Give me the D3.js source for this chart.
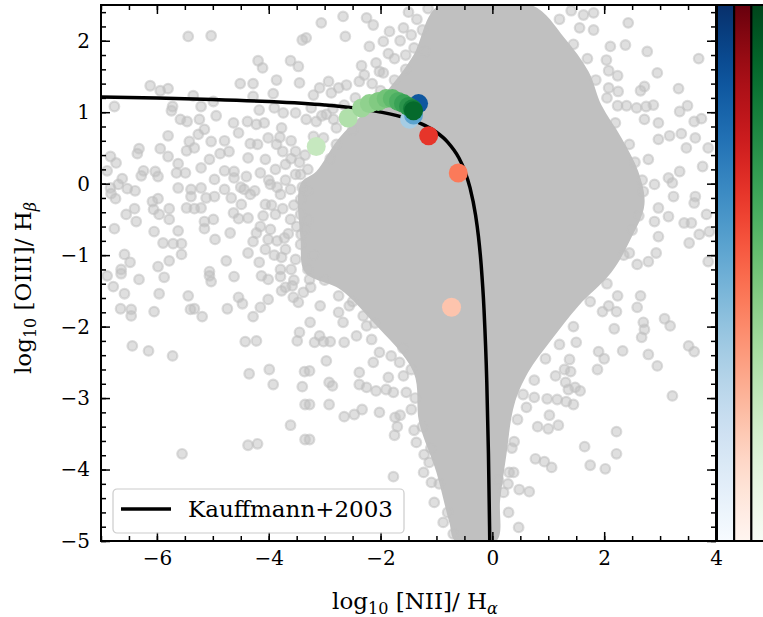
<!DOCTYPE html>
<html lang="en">
<head>
<meta charset="utf-8">
<title>BPT diagram</title>
<script src="https://cdn.jsdelivr.net/npm/d3@7"></script>
<style>
  body { margin: 0; background: #fff; }
  text { font-family: 'DejaVu Serif', serif; }
</style>
</head>
<body>
<div id="chart"></div>
<script>
// axis ticks
const xTicks = [-6, -4, -2, 0, 2, 4];
const yTicks = [-5, -4, -3, -2, -1, 0, 1, 2];

// outline of the densely packed grey cloud (log NII/Ha, log OIII/Hb)
const denseX = [-0.95, 0.70, 1.29, 1.72, 1.95, 2.31, 2.61, 2.72, 2.47, 2.13, 1.54, 1.06, 0.64, 0.39, 0.25, 0.14, 0.07,
  -0.66, -0.77, -1.00, -1.31, -1.41, -2.13, -2.72, -3.35, -3.43, -3.43, -3.15, -2.74, -1.84, -1.41];
const denseY = [2.50, 2.50, 2.04, 1.57, 1.10, 0.64, 0.17, -0.29, -0.78, -1.24, -1.71, -2.18, -2.64, -3.10, -3.80, -4.42, -5.0,
  -5.0, -4.74, -4.04, -3.34, -2.64, -1.94, -1.48, -1.24, -0.78, 0.00, 0.17, 0.64, 1.34, 1.80];

// scattered grey galaxies outside the dense cloud
const greyPts = [
  [-5.44,2.06],[-5.03,2.07],[-3.40,2.01],[-4.19,1.72],[-4.11,1.62],[-3.61,1.72],[-3.47,1.64],[-6.12,1.37],[-5.94,1.30],[-5.80,1.33],
  [-4.51,1.40],[-4.28,1.40],[-3.86,1.45],[-3.92,1.26],[-3.45,1.41],[-5.35,1.23],[-4.28,1.22],
  [-6.76,1.08],[-5.72,1.08],[-5.74,1.02],[-5.21,1.08],[-4.99,1.15],[-4.94,0.95],[-5.58,0.90],[-5.46,0.87],[-5.24,0.90],[-4.63,0.85],
  [-4.38,0.87],[-4.17,1.03],[-3.90,1.06],[-3.74,0.99],[-3.52,0.99],
  [-5.80,0.67],[-5.26,0.69],[-5.15,0.76],[-4.54,0.71],[-4.22,0.83],[-4.08,0.85],[-4.01,0.64],[-3.77,0.78],
  [-6.32,0.49],[-6.35,0.42],[-5.94,0.49],[-5.80,0.38],[-5.42,0.59],[-5.47,0.46],[-5.33,0.50],[-5.03,0.59],[-4.79,0.60],[-4.33,0.56],
  [-3.86,0.55],[-3.52,0.45],
  [-6.83,0.38],[-6.73,0.29],[-6.89,0.18],[-6.24,0.18],[-6.28,0.11],[-6.03,0.17],[-5.98,0.10],[-5.62,0.28],[-5.65,0.15],[-5.49,0.15],
  [-5.21,0.22],[-5.06,0.34],[-4.87,0.42],[-4.71,0.45],[-4.62,0.17],[-4.37,0.36],[-4.79,0.18],
  [-6.62,0.07],[-6.69,-0.01],[-6.83,-0.06],[-6.53,-0.07],[-6.39,-0.10],[-5.62,-0.06],[-5.39,-0.08],[-5.21,-0.06],[-4.97,0.06],
  [-4.79,-0.08],[-4.62,0.08],[-4.44,-0.08],
  [-6.82,-0.14],[-6.74,-0.21],[-6.08,-0.25],[-5.98,-0.21],[-5.39,-0.18],[-5.12,-0.20],[-4.97,-0.18],[-4.67,-0.20],[-4.49,-0.29],[-4.33,-0.15],
  [-6.40,-0.35],[-6.55,-0.43],[-6.06,-0.36],[-5.96,-0.43],[-5.78,-0.35],[-5.78,-0.50],[-5.47,-0.34],[-5.33,-0.35],[-5.21,-0.34],
  [-5.15,-0.53],[-4.99,-0.50],[-4.63,-0.41],[-4.54,-0.49],[-4.37,-0.48],
  [-6.76,-0.63],[-6.37,-0.53],[-6.05,-0.67],[-5.62,-0.66],[-5.15,-0.63],[-4.96,-0.78],[-4.69,-0.69],[-4.22,-0.69],[-5.89,-0.83],
  [-5.71,-0.84],[-5.56,-0.84],[-4.76,-1.08],[-6.58,-0.99],[-6.48,-1.10],[-5.98,-1.16],[-5.78,-1.08],[-5.56,-0.99],[-6.64,-1.20],
  [-5.06,-1.23],[-4.37,-0.97],[-4.17,-1.10],[-3.77,-1.03],[-4.28,-0.81],[-4.01,-0.78],[-3.72,-0.76],[-3.42,-0.71],
  [-4.06,0.34],[-3.88,0.20],[-3.70,0.27],[-3.52,0.13],[-3.97,-0.01],[-3.79,-0.15],[-3.61,-0.08],[-3.43,-0.22],[-4.06,-0.29],
  [-3.88,-0.43],[-3.61,-0.50],[-3.43,-0.43],[-3.97,-0.64],[-3.70,-0.92],[-3.52,-1.06],[-3.43,-0.85],[-4.06,-0.92],[-3.79,-1.20],
  [-3.43,0.13],[-3.35,-0.64],
  [-4.15,0.15],[-4.00,0.05],[-3.85,-0.05],[-3.70,0.05],[-3.60,0.35],[-3.75,0.45],[-4.25,-0.10],[-4.10,-0.45],[-3.95,-0.30],
  [-3.75,-0.35],[-3.55,-0.30],[-3.65,-0.70],[-3.85,-0.80],[-4.15,-0.60],[-3.90,-1.00],[-3.60,-1.20],[-3.50,-0.60],[-3.80,0.65],
  [-3.60,0.60],[-4.40,0.10],[-4.50,-0.05],[-4.20,0.55],[-3.45,0.30],[-3.55,-1.35],[-3.70,-1.45],[-3.30,-1.20],[-3.25,-1.45],
  [-3.35,0.40],[-3.40,-0.05],[-3.30,0.20],
  [-6.89,-1.29],[-6.78,-1.44],[-6.64,-1.26],[-6.32,-1.34],[-6.58,-1.54],[-6.65,-1.75],[-6.46,-1.76],[-6.46,-1.85],[-6.05,-1.79],
  [-5.96,-1.54],[-5.87,-1.31],[-5.44,-1.57],[-5.40,-1.76],[-5.33,-1.75],[-5.19,-1.86],[-5.06,-1.29],[-5.03,-1.37],[-4.74,-1.75],
  [-4.62,-1.30],[-4.54,-1.59],[-4.47,-1.68],[-4.28,-1.86],[-4.15,-1.73],[-4.01,-1.62],[-4.13,-1.29],[-4.01,-1.34],[-3.79,-1.30],
  [-3.77,-1.50],[-3.58,-1.43],[-3.56,-1.59],[-3.47,-1.66],[-3.38,-1.52],
  [-6.44,-2.27],[-6.15,-2.34],[-5.72,-2.41],[-4.42,-2.21],[-4.22,-2.20],[-3.45,-2.08],[-3.49,-2.20],[-4.35,-2.66],[-3.99,-2.60],
  [-3.92,-2.81],[-3.36,-2.63],[-3.40,-2.84],[-3.35,-3.09],[-3.61,-3.38],[-4.37,-3.66],[-4.20,-3.64],[-5.55,-3.78],[-3.35,-3.58],
  [-3.08,-1.71],[-2.75,-1.57],[-3.26,-1.94],[-3.09,-2.13],[-3.18,-2.22],[-3.02,-2.21],[-2.90,-2.21],[-2.65,-2.22],[-2.97,-2.48],
  [-3.27,-2.62],[-2.92,-2.78],[-2.86,-2.83],[-2.38,-2.81],[-2.25,-2.85],[-3.27,-3.09],[-2.92,-3.09],[-2.65,-3.26],[-2.47,-3.23],
  [-2.33,-3.16],[-2.02,-3.20],[-1.74,-3.27],[-1.65,-3.24],[-1.70,-3.40],[-1.75,-3.52],[-3.27,-3.58],[-2.38,-2.64],[-2.13,-2.50],
  [-1.86,-2.71],[-2.08,-2.90],[-1.90,-2.88],[-1.59,-2.69],[-1.77,-2.92],[-1.54,-2.92],[-1.45,-3.16],[-1.40,-3.45],[-1.36,-3.62],
  [-1.22,-3.79],[-1.13,-3.90],[-1.23,-4.04],[-1.77,-4.10],[-1.09,-4.18],[-1.04,-4.46],[-0.88,-4.74],[-2.56,-1.71],[-2.31,-1.85],
  [-2.25,-1.99],[-2.43,-2.13],[-2.16,-2.18],[-2.02,-2.36],[-2.67,-1.94],[-2.75,-1.80],[-1.81,-2.41],[-1.66,-2.50],[-3.27,-1.34],
  [0.11,-4.15],[0.20,-4.32],[0.30,-4.04],[0.29,-4.60],
  [2.43,2.25],[1.81,2.39],[1.63,2.36],[1.41,2.42],[1.56,2.18],[1.81,2.15],[2.11,1.92],[2.38,1.94],[2.77,1.85],[3.69,1.75],[2.04,1.73],
  [2.95,1.55],[2.08,1.58],[2.24,1.51],[2.72,1.36],[2.65,1.30],[3.33,1.33],[2.25,1.29],[2.08,1.34],[2.24,1.09],[2.40,1.09],[2.58,1.06],
  [2.75,1.08],[2.88,1.10],[3.49,1.09],[3.35,1.01],[3.61,0.87],[3.74,0.91],[2.72,0.90],[2.97,0.85],[3.17,0.67],[3.38,0.70],[3.47,0.50],
  [3.63,0.64],[3.86,0.50],[2.97,0.62],[3.76,0.24],[3.35,0.17],[3.15,0.08],[3.22,0.01],[3.24,-0.18],[3.63,-0.18],[3.61,-0.27],
  [3.83,-0.43],[3.43,-0.55],[3.56,-0.55],[3.15,-0.46],[2.90,-0.53],[2.97,-0.74],[3.70,-0.71],[3.88,-0.67],[3.52,-0.83],[3.86,-1.09],
  [2.93,-0.97],[2.79,-1.09],[2.45,-0.97],[2.59,-1.13],[2.90,-0.01],[2.97,-0.34],[2.70,-0.11],[2.79,0.34],
  [2.24,-1.57],[2.65,-1.57],[2.59,-1.73],[2.22,-1.79],[2.18,-2.03],[2.70,-1.94],[2.72,-2.04],[2.67,-2.15],[3.08,-1.89],[3.18,-1.99],
  [3.51,-2.27],[3.61,-2.35],[2.79,-2.39],[2.95,-2.55],[2.33,-2.34],[1.90,-2.35],[2.00,-2.45],[1.88,-2.60],[1.97,-1.79],[2.08,-1.71],
  [3.22,-2.97],[1.38,-2.46],[1.29,-2.60],[1.40,-2.63],[1.13,-2.69],[1.31,-2.78],[1.36,-2.88],[1.48,-2.85],[1.57,-2.90],[1.45,-3.09],
  [1.32,-3.05],[0.98,-3.01],[1.16,-3.02],[0.75,-2.99],[0.61,-3.13],[1.02,-3.24],[0.81,-3.40],[1.00,-3.43],[1.18,-3.38],[2.22,-3.47],
  [2.22,-3.78],[1.65,-3.68],[1.75,-3.94],[2.02,-3.99],[0.77,-3.85],[0.93,-3.89],[1.06,-3.97],[0.39,-3.61],[0.66,-4.31],[0.48,-4.28],
  [0.47,-4.81],[0.38,-4.04],[1.50,-2.22],
  [-3.06,2.25],[-2.67,2.34],[-2.25,2.32],[-2.13,2.22],[-2.63,2.06],[-1.84,2.13],[-1.59,2.18],[-1.45,2.08],[-2.20,1.92],[-1.95,1.99],
  [-1.86,1.82],[-2.34,1.65],[-2.08,1.69],[-2.29,1.52],[-2.02,1.57],[-2.93,1.43],[-3.09,1.34],[-2.38,1.43],[-2.61,1.38],[-2.75,1.34],
  [-3.20,1.24],[-2.88,1.27],[-3.33,0.90],[-3.15,0.87],[-2.97,0.97],[-2.84,0.90],[-3.24,1.06],[-2.79,0.78],[-2.79,0.55],[-3.02,0.64],
  [-3.20,0.66],[-3.33,2.04],
  [-1.35,2.30],[-1.25,2.15],[-1.40,1.90],[-1.65,2.00],[-1.75,1.75],[-1.55,1.80],[-1.95,1.55],[-2.15,1.40],[-2.45,1.20],[-2.65,1.10],
  [-2.85,1.05],[-3.05,0.95],[-1.15,2.45],[-1.50,2.40],
  [1.20,2.30],[1.45,1.95],[1.70,1.75],[1.85,1.45],[2.05,1.20],[2.20,0.85],[2.45,0.55],[2.55,0.30],[2.68,0.05],[2.62,-0.45],[2.50,-0.65],
  [2.35,-1.00],[2.05,-1.40],[1.75,-1.65],[1.45,-2.00],[1.20,-2.25],[0.95,-2.45],[0.75,-2.75],[0.55,-2.95],[0.45,-3.30],[0.35,-3.70],
  [0.28,-4.20],
  [-1.20,1.85],[-1.55,1.60],[-1.75,1.45],[-2.00,1.30],[-2.50,0.75],[-2.90,0.35],[-3.30,-0.10],[-3.30,-0.50],[-3.20,-1.00],[-3.00,-1.35],
  [-2.50,-1.65],[-2.10,-1.95],[-1.60,-2.30],[-1.45,-2.60],[-1.38,-3.00],[-1.25,-3.40],[-1.10,-3.70],[-0.95,-4.20],[-0.80,-4.60],[-0.70,-4.90]
];

// Kauffmann+2003 demarcation, points
const kauffX = [-7, -6, -5, -4, -3, -2.5, -2, -1.5, -1.2, -1, -0.8, -0.6, -0.5, -0.4, -0.3, -0.25, -0.2, -0.15, -0.1, -0.07, -0.05, -0.045];
const kauffY = [1.213, 1.199, 1.179, 1.149, 1.100, 1.061, 1.002, 0.906, 0.812, 0.719, 0.582, 0.362, 0.191, -0.056, -0.443, -0.733,
  -1.140, -1.750, -2.767, -3.783, -4.800, -5.121];

// coloured sources (value = position on each colour bar, 0..1)
const blueX = [-1.48, -1.41, -1.32];
const blueY = [0.90, 0.96, 1.12];
const blueV = [0.35, 0.55, 0.85];
const redX = [-0.73, -0.61, -1.14];
const redY = [-1.73, 0.15, 0.67];
const redV = [0.22, 0.45, 0.65];
const greenX = [-3.15, -2.58, -2.34, -2.20, -2.04, -1.90, -1.79, -1.68, -1.59, -1.50, -1.43, -1.41];
const greenY = [0.52, 0.92, 1.06, 1.12, 1.15, 1.19, 1.19, 1.15, 1.12, 1.08, 1.05, 1.02];
const greenV = [0.25, 0.32, 0.38, 0.42, 0.46, 0.50, 0.55, 0.60, 0.66, 0.72, 0.80, 0.88];

const W = 763, H = 617;
const margin = {top: 5, right: 47, bottom: 76, left: 101};
const width = W - margin.left - margin.right;
const height = H - margin.top - margin.bottom;

const svg = d3.select('#chart').append('svg')
  .attr('width', W).attr('height', H);

svg.append('defs').append('clipPath').attr('id', 'clip')
  .append('rect').attr('width', width).attr('height', height);

const g = svg.append('g')
  .attr('transform', 'translate(' + margin.left + ',' + margin.top + ')');

const x = d3.scaleLinear().domain([-7, 4]).range([0, width]);
const y = d3.scaleLinear().domain([-5, 2.5]).range([height, 0]);

const plot = g.append('g').attr('clip-path', 'url(#clip)');

// dense cloud
plot.append('path')
  .datum(d3.zip(denseX, denseY))
  .attr('d', d3.line().x(d => x(d[0])).y(d => y(d[1])).curve(d3.curveCatmullRomClosed))
  .attr('fill', '#c0c0c0');

// scattered grey points
plot.selectAll('.grey')
  .data(greyPts)
  .enter().append('circle')
  .attr('class', 'grey')
  .attr('cx', d => x(d[0]))
  .attr('cy', d => y(d[1]))
  .attr('r', 4.8)
  .attr('fill', '#c0c0c0').attr('fill-opacity', 0.5)
  .attr('stroke', '#c0c0c0').attr('stroke-opacity', 0.55).attr('stroke-width', 2.2);

// Kauffmann line
plot.append('path')
  .datum(d3.zip(kauffX, kauffY))
  .attr('d', d3.line().x(d => x(d[0])).y(d => y(d[1])).curve(d3.curveMonotoneX))
  .attr('fill', 'none').attr('stroke', '#000').attr('stroke-width', 3.5);

function dots(xs, ys, vs, interp) {
  plot.append('g').selectAll('circle')
    .data(d3.range(xs.length))
    .enter().append('circle')
    .attr('cx', i => x(xs[i]))
    .attr('cy', i => y(ys[i]))
    .attr('r', 9.5)
    .attr('fill', i => interp(vs[i]));
}
dots(blueX, blueY, blueV, d3.interpolateBlues);
dots(redX, redY, redV, d3.interpolateReds);
dots(greenX, greenY, greenV, d3.interpolateGreens);

// axes: major + minor ticks, pointing inward on all four sides
const fmt = d3.format('d');
const xMinor = d3.range(-7, 4.01, 0.5);
const yMinor = d3.range(-5, 2.51, 0.2).map(v => +v.toFixed(2));

function styleAxis(sel) {
  sel.select('.domain').remove();
  sel.selectAll('line').attr('stroke', '#000').attr('stroke-width', 1.5);
  sel.selectAll('text').attr('font-size', 20).attr('fill', '#000')
    .attr('font-family', "'DejaVu Serif', serif");
}

g.append('g').attr('transform', 'translate(0,' + height + ')')
  .call(d3.axisBottom(x).tickValues(xTicks).tickFormat(fmt).tickSize(-9).tickPadding(10)).call(styleAxis);
g.append('g').attr('transform', 'translate(0,' + height + ')')
  .call(d3.axisBottom(x).tickValues(xMinor).tickFormat('').tickSize(-5)).call(styleAxis);
g.append('g')
  .call(d3.axisTop(x).tickValues(xTicks).tickFormat('').tickSize(-9)).call(styleAxis);
g.append('g')
  .call(d3.axisTop(x).tickValues(xMinor).tickFormat('').tickSize(-5)).call(styleAxis);

g.append('g')
  .call(d3.axisLeft(y).tickValues(yTicks).tickFormat(fmt).tickSize(-9).tickPadding(11)).call(styleAxis);
g.append('g')
  .call(d3.axisLeft(y).tickValues(yMinor).tickFormat('').tickSize(-5)).call(styleAxis);
g.append('g').attr('transform', 'translate(' + width + ',0)')
  .call(d3.axisRight(y).tickValues(yTicks).tickFormat('').tickSize(-9)).call(styleAxis);
g.append('g').attr('transform', 'translate(' + width + ',0)')
  .call(d3.axisRight(y).tickValues(yMinor).tickFormat('').tickSize(-5)).call(styleAxis);

// frame
g.append('rect').attr('width', width).attr('height', height)
  .attr('fill', 'none').attr('stroke', '#000').attr('stroke-width', 2);

// legend
const leg = g.append('g').attr('transform', 'translate(12,' + (height - 52) + ')');
leg.append('rect').attr('width', 291).attr('height', 44).attr('rx', 4)
  .attr('fill', '#fff').attr('fill-opacity', 0.8).attr('stroke', '#cccccc').attr('stroke-width', 1.2);
leg.append('line').attr('x1', 8).attr('x2', 58).attr('y1', 20).attr('y2', 20)
  .attr('stroke', '#000').attr('stroke-width', 3.5);
leg.append('text').attr('x', 75).attr('y', 28).attr('font-size', 23).text('Kauffmann+2003');

// colour bars (Blues, Reds, Greens) stacked to the right of the axes
const bars = [d3.interpolateBlues, d3.interpolateReds, d3.interpolateGreens];
const defs = svg.select('defs');
bars.forEach((interp, k) => {
  const grad = defs.append('linearGradient').attr('id', 'cb' + k)
    .attr('x1', 0).attr('x2', 0).attr('y1', 1).attr('y2', 0);
  d3.range(0, 1.001, 0.05).forEach(t => {
    grad.append('stop').attr('offset', t).attr('stop-color', interp(t));
  });
  g.append('rect')
    .attr('x', width + 1 + k * 17.2).attr('y', 0)
    .attr('width', 17.2).attr('height', height)
    .attr('fill', 'url(#cb' + k + ')')
    .attr('stroke', '#000').attr('stroke-width', 2);
});

// axis labels
function mathLabel(t, main, sub) {
  t.append('tspan').text('log');
  t.append('tspan').attr('font-size', 16).attr('dy', 5).text('10');
  t.append('tspan').attr('dy', -5).text(' ' + main + '/ H');
  t.append('tspan').attr('font-size', 16).attr('dy', 5).attr('font-style', 'italic').text(sub);
}
svg.append('text')
  .attr('x', 415).attr('y', 609).attr('text-anchor', 'middle').attr('font-size', 23)
  .call(t => mathLabel(t, '[NII]', 'α'));
svg.append('text')
  .attr('transform', 'translate(31,288) rotate(-90)')
  .attr('text-anchor', 'middle').attr('font-size', 23)
  .call(t => mathLabel(t, '[OIII]', 'β'));
</script>
</body>
</html>
